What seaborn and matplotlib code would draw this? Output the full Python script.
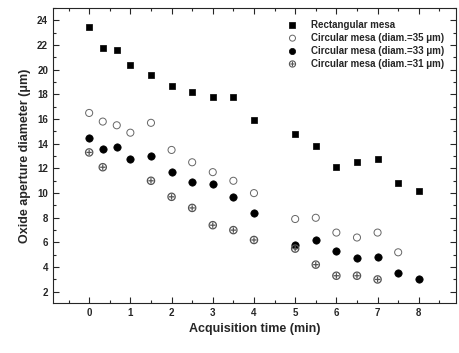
import numpy as np
import pandas as pd
import matplotlib.pyplot as plt
import seaborn as sns
from matplotlib.ticker import MultipleLocator

t_rect = [0, 0.33, 0.67, 1, 1.5, 2, 2.5, 3, 3.5, 4, 5, 5.5, 6, 6.5, 7, 7.5, 8]
d_rect = [23.5, 21.8, 21.6, 20.4, 19.6, 18.7, 18.2, 17.8, 17.8, 15.9, 14.8, 13.8, 12.1, 12.5, 12.8, 10.8, 10.2]

t_35 = [0, 0.33, 0.67, 1, 1.5, 2, 2.5, 3, 3.5, 4, 5, 5.5, 6, 6.5, 7, 7.5]
d_35 = [16.5, 15.8, 15.5, 14.9, 15.7, 13.5, 12.5, 11.7, 11.0, 10.0, 7.9, 8.0, 6.8, 6.4, 6.8, 5.2]

t_33 = [0, 0.33, 0.67, 1, 1.5, 2, 2.5, 3, 3.5, 4, 5, 5.5, 6, 6.5, 7, 7.5, 8]
d_33 = [14.5, 13.6, 13.7, 12.8, 13.0, 11.7, 10.9, 10.7, 9.7, 8.4, 5.8, 6.2, 5.3, 4.7, 4.8, 3.5, 3.0]

t_31 = [0, 0.33, 1.5, 2, 2.5, 3, 3.5, 4, 5, 5.5, 6, 6.5, 7]
d_31 = [13.3, 12.1, 11.0, 9.7, 8.8, 7.4, 7.0, 6.2, 5.5, 4.2, 3.3, 3.3, 3.0]

sns.set_style("ticks")
plt.rcParams['font.family'] = ['Liberation Sans', 'DejaVu Sans']
plt.rcParams['font.weight'] = 'bold'

fig = plt.figure(figsize=(4.6, 3.53), dpi=100)
ax = fig.add_axes([0.115, 0.142, 0.876, 0.835])

sns.scatterplot(x=t_rect, y=d_rect, marker='s', s=24, color='black', edgecolor='black',
                linewidth=0.5, label='Rectangular mesa', ax=ax)
sns.scatterplot(x=t_35, y=d_35, marker='o', s=26, facecolors='none', edgecolor='#666666',
                linewidth=0.7, label='Circular mesa (diam.=35 \u03bcm)', ax=ax)
sns.scatterplot(x=t_33, y=d_33, marker='o', s=28, color='black', edgecolor='black',
                linewidth=0.5, label='Circular mesa (diam.=33 \u03bcm)', ax=ax)
sns.scatterplot(x=t_31, y=d_31, marker='$\\oplus$', s=38, color='#555555', edgecolor='none',
                linewidth=0, label='Circular mesa (diam.=31 \u03bcm)', ax=ax)

ax.set_xlim(-0.88, 8.9)
ax.set_ylim(1.1, 25.0)
ax.xaxis.set_major_locator(MultipleLocator(1))
ax.xaxis.set_minor_locator(MultipleLocator(0.5))
ax.yaxis.set_minor_locator(MultipleLocator(1))
ax.set_yticks(np.arange(2, 25, 2))
ax.tick_params(which='both', direction='in', top=True, right=True, labelsize=7, width=0.8)
ax.tick_params(which='major', length=4)
ax.tick_params(which='minor', length=2)
for sp in ax.spines.values():
    sp.set_linewidth(0.8)
    sp.set_visible(True)

ax.set_xlabel('Acquisition time (min)', fontsize=9, fontweight='bold')
ax.set_ylabel('Oxide aperture diameter (\u03bcm)', fontsize=9, fontweight='bold')

ax.legend(loc='upper right', frameon=False, fontsize=7, handletextpad=0.9,
          labelspacing=0.3, borderaxespad=0.8, markerscale=0.85)

fig.savefig('out.png', dpi=100)
